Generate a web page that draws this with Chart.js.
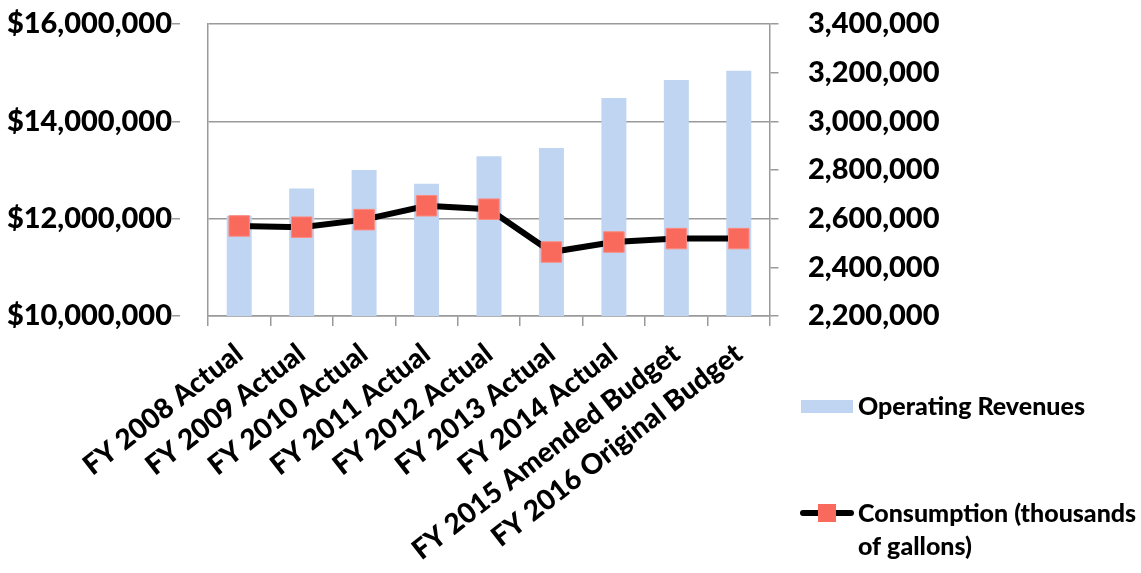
<!DOCTYPE html>
<html>
<head>
<meta charset="utf-8">
<script src="https://cdn.jsdelivr.net/npm/chart.js@4/dist/chart.umd.min.js"></script>
<style>
  html, body { margin: 0; padding: 0; background: #fff; }
  #wrap { width: 1141px; height: 573px; position: relative; }
</style>
</head>
<body>
<div id="wrap"><canvas id="c" width="1141" height="573"></canvas></div>
<script>
const categories = [
  "FY 2008 Actual", "FY 2009 Actual", "FY 2010 Actual", "FY 2011 Actual",
  "FY 2012 Actual", "FY 2013 Actual", "FY 2014 Actual",
  "FY 2015 Amended Budget", "FY 2016 Original Budget"
];
const operatingRevenues = [12060000, 12620000, 13000000, 12720000, 13280000, 13450000, 14480000, 14850000, 15040000];
const consumption = [2570000, 2565000, 2596000, 2653000, 2639000, 2463000, 2504000, 2518000, 2518000];
const leftTicks = [10000000, 12000000, 14000000, 16000000];
const rightTicks = [2200000, 2400000, 2600000, 2800000, 3000000, 3200000, 3400000];
const seriesNames = ["Operating Revenues", ["Consumption (thousands", "of gallons)"]];

const FONT = "Lato";
const WEIGHT = "900";
const BAR_COLOR = "#bfd5f2";
const MARK_COLOR = "#fa6a5c";
const AXIS_COLOR = "#9a9a9a";

const legendPlugin = {
  id: "customLegend",
  afterDraw(chart) {
    const ctx = chart.ctx;
    ctx.save();
    ctx.font = WEIGHT + " 25px " + FONT;
    ctx.textBaseline = "middle";
    ctx.textAlign = "left";
    ctx.fillStyle = BAR_COLOR;
    ctx.fillRect(801, 400, 52, 13);
    ctx.fillStyle = "#000";
    ctx.fillText(seriesNames[0], 858, 407);
    ctx.strokeStyle = "#000";
    ctx.lineWidth = 6;
    ctx.lineCap = "round";
    ctx.beginPath();
    ctx.moveTo(803, 513);
    ctx.lineTo(851, 513);
    ctx.stroke();
    ctx.fillStyle = MARK_COLOR;
    ctx.fillRect(818, 504, 18, 18);
    ctx.fillStyle = "#000";
    ctx.fillText(seriesNames[1][0], 858, 514);
    ctx.fillText(seriesNames[1][1], 858, 547);
    ctx.restore();
  }
};

const tickFont = { family: FONT, weight: WEIGHT, size: 29 };

new Chart(document.getElementById("c"), {
  data: {
    labels: categories,
    datasets: [
      {
        type: "line",
        label: "Consumption (thousands of gallons)",
        data: consumption,
        yAxisID: "y2",
        borderColor: "#000",
        borderWidth: 6,
        pointStyle: "rect",
        pointRadius: 14.5,
        pointHoverRadius: 14.5,
        pointBackgroundColor: MARK_COLOR,
        pointBorderColor: "#fb8b80",
        pointBorderWidth: 1,
        tension: 0,
        order: 0
      },
      {
        type: "bar",
        label: "Operating Revenues",
        data: operatingRevenues,
        yAxisID: "y",
        backgroundColor: BAR_COLOR,
        barPercentage: 0.4,
        categoryPercentage: 1,
        order: 1
      }
    ]
  },
  plugins: [legendPlugin],
  options: {
    responsive: false,
    animation: false,
    layout: { padding: { top: 24, right: 191, left: 0, bottom: 0 } },
    plugins: { legend: { display: false }, tooltip: { enabled: false } },
    scales: {
      x: {
        offset: true,
        grid: { offset: true, drawOnChartArea: false, tickLength: 10, color: AXIS_COLOR, lineWidth: 1.5 },
        border: { color: AXIS_COLOR, width: 1.5 },
        ticks: { minRotation: 38, maxRotation: 38, autoSkip: false, font: { family: FONT, weight: WEIGHT, size: 28 }, color: "#000", padding: 11 },
        afterFit: s => { s.height = 257; }
      },
      y: {
        position: "left",
        min: leftTicks[0],
        max: leftTicks[leftTicks.length - 1],
        afterBuildTicks: s => { s.ticks = leftTicks.map(v => ({ value: v })); },
        ticks: { callback: v => "$" + Number(v).toLocaleString("en-US"), font: tickFont, color: "#000", padding: 0 },
        grid: { color: AXIS_COLOR, lineWidth: 1.5, tickLength: 36, tickBorderDash: [8, 400] },
        border: { color: AXIS_COLOR, width: 1.5 },
        afterFit: s => { s.width = 208; }
      },
      y2: {
        position: "right",
        min: rightTicks[0],
        max: rightTicks[rightTicks.length - 1],
        afterBuildTicks: s => { s.ticks = rightTicks.map(v => ({ value: v })); },
        ticks: { callback: v => Number(v).toLocaleString("en-US"), font: tickFont, color: "#000", padding: 0 },
        grid: { drawOnChartArea: false, color: AXIS_COLOR, lineWidth: 1.5, tickLength: 38, tickBorderDash: [8, 400] },
        border: { color: AXIS_COLOR, width: 1.5 },
        afterFit: s => { s.width = 180; }
      }
    }
  }
});
</script>
</body>
</html>
